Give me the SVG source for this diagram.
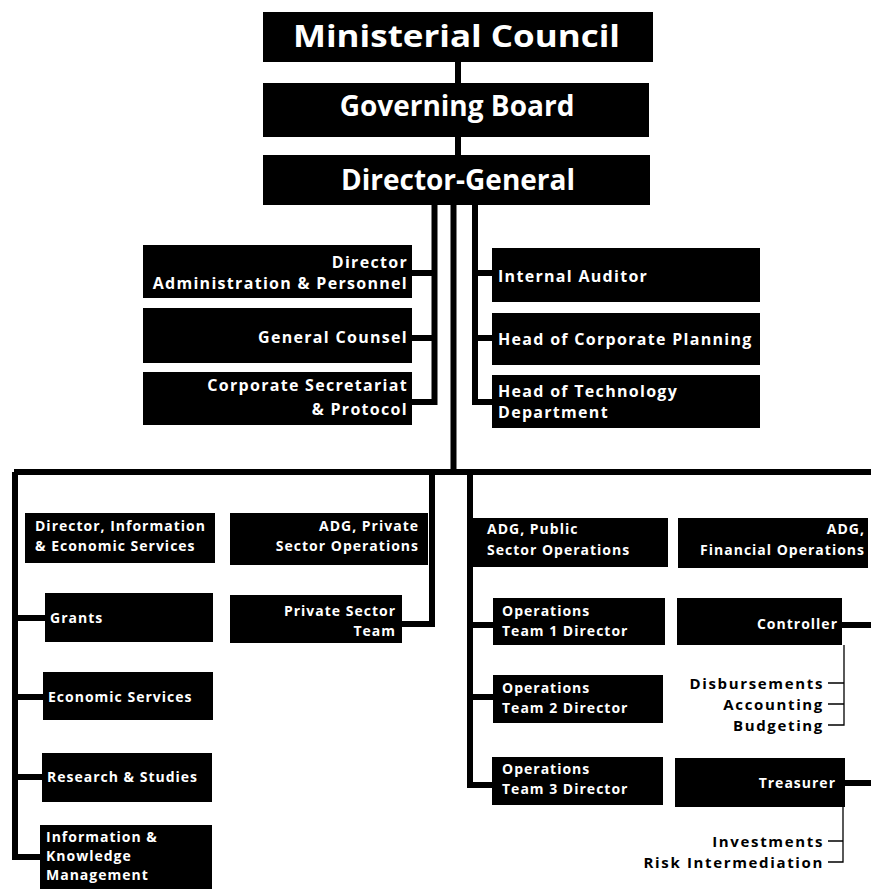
<svg xmlns="http://www.w3.org/2000/svg" width="871" height="889" viewBox="0 0 871 889">
<style>
.box{fill:#000}
.t{fill:#fff;font-family:"Open Sans","Noto Sans","DejaVu Sans",sans-serif;font-weight:700}
.big{font-size:28px}
.m{font-size:16px;letter-spacing:1.3px}
.s{font-size:14px;letter-spacing:1px}
.sub{fill:#000;font-family:"Open Sans","Noto Sans","DejaVu Sans",sans-serif;font-weight:700;font-size:15px;letter-spacing:1.65px}
.c{stroke:#000;stroke-width:6;fill:none}
.thin{stroke:#000;stroke-width:1.3;fill:none}
</style>
<rect width="871" height="889" fill="#fff"/>
<g id="connectors">
<path class="c" d="M458 62V83M458 137V155"/>
<path class="c" d="M434.5 205V402H412M412 273H434.5M412 338H434.5"/>
<path class="c" d="M453.5 205V472"/>
<path class="c" d="M475 205V402H492M475 273H492M475 338H492"/>
<path class="c" d="M14 472H871"/>
<path class="c" d="M15 472V857H42M15 618H45M15 697H43M15 777H42"/>
<path class="c" d="M432 472V624H402"/>
<path class="c" d="M470 472V785H492M470 625H493M470 697H493"/>
<path class="c" d="M842 625H871M845 783H871"/>
<path class="thin" d="M844 645V725H828M828 704H844M828 683H844"/>
<path class="thin" d="M843 807V862H828M828 841H843"/>
</g>
<g id="n-mc"><rect class="box" x="263" y="12" width="390" height="50"/><text class="t" x="293" y="47" font-size="30" font-weight="800" textLength="327" lengthAdjust="spacingAndGlyphs">Ministerial Council</text></g>
<g id="n-gb"><rect class="box" x="263" y="83" width="386" height="54"/><text class="t big" x="457" y="116" text-anchor="middle" font-size="27">Governing Board</text></g>
<g id="n-dg"><rect class="box" x="263" y="155" width="387" height="50"/><text class="t big" x="458" y="190" text-anchor="middle">Director-General</text></g>
<g id="n-admin"><rect class="box" x="143" y="245" width="269" height="53"/><text class="t m" text-anchor="end" x="408" y="268">Director</text><text class="t m" text-anchor="end" x="408" y="289">Administration &amp; Personnel</text></g>
<g id="n-gc"><rect class="box" x="143" y="308" width="269" height="55"/><text class="t m" text-anchor="end" x="408" y="343">General Counsel</text></g>
<g id="n-cs"><rect class="box" x="143" y="372" width="269" height="53"/><text class="t m" text-anchor="end" x="408" y="391">Corporate Secretariat</text><text class="t m" text-anchor="end" x="408" y="415">&amp; Protocol</text></g>
<g id="n-ia"><rect class="box" x="492" y="248" width="268" height="54"/><text class="t m" x="498" y="282">Internal Auditor</text></g>
<g id="n-hcp"><rect class="box" x="492" y="313" width="268" height="52"/><text class="t m" x="498" y="345">Head of Corporate Planning</text></g>
<g id="n-htd"><rect class="box" x="492" y="375" width="268" height="53"/><text class="t m" x="498" y="397">Head of Technology</text><text class="t m" x="498" y="418">Department</text></g>
<g id="n-dies"><rect class="box" x="25" y="513" width="190" height="50"/><text class="t s" x="35" y="531">Director, Information</text><text class="t s" x="35" y="551">&amp; Economic Services</text></g>
<g id="n-adgp"><rect class="box" x="230" y="513" width="198" height="52"/><text class="t s" text-anchor="end" x="419" y="531">ADG, Private</text><text class="t s" text-anchor="end" x="419" y="551">Sector Operations</text></g>
<g id="n-grants"><rect class="box" x="45" y="593" width="168" height="49"/><text class="t s" x="50" y="623">Grants</text></g>
<g id="n-pst"><rect class="box" x="230" y="595" width="172" height="48"/><text class="t s" text-anchor="end" x="396" y="616">Private Sector</text><text class="t s" text-anchor="end" x="396" y="636">Team</text></g>
<g id="n-econ"><rect class="box" x="43" y="672" width="170" height="48"/><text class="t s" x="48" y="702">Economic Services</text></g>
<g id="n-rs"><rect class="box" x="42" y="753" width="170" height="49"/><text class="t s" x="47" y="782">Research &amp; Studies</text></g>
<g id="n-ikm"><rect class="box" x="40" y="825" width="172" height="64"/><text class="t s" x="46" y="842">Information &amp;</text><text class="t s" x="46" y="861">Knowledge</text><text class="t s" x="46" y="880">Management</text></g>
<g id="n-adgpub"><rect class="box" x="473" y="518" width="195" height="49"/><text class="t s" x="487" y="534">ADG, Public</text><text class="t s" x="487" y="555">Sector Operations</text></g>
<g id="n-adgf"><rect class="box" x="678" y="518" width="190" height="50"/><text class="t s" text-anchor="end" x="865" y="534">ADG,</text><text class="t s" text-anchor="end" x="865" y="555">Financial Operations</text></g>
<g id="n-ops1"><rect class="box" x="493" y="598" width="172" height="47"/><text class="t s" x="502" y="616">Operations</text><text class="t s" x="502" y="636">Team 1 Director</text></g>
<g id="n-ctrl"><rect class="box" x="677" y="598" width="165" height="47"/><text class="t s" text-anchor="end" x="838" y="629">Controller</text></g>
<g id="n-ops2"><rect class="box" x="493" y="675" width="170" height="48"/><text class="t s" x="502" y="693">Operations</text><text class="t s" x="502" y="713">Team 2 Director</text></g>
<g id="n-ops3"><rect class="box" x="492" y="757" width="171" height="48"/><text class="t s" x="502" y="774">Operations</text><text class="t s" x="502" y="794">Team 3 Director</text></g>
<g id="n-treas"><rect class="box" x="675" y="758" width="170" height="49"/><text class="t s" text-anchor="end" x="836" y="788">Treasurer</text></g>
<g id="n-ctrl-sub"><text class="sub" text-anchor="end" x="824" y="689">Disbursements</text><text class="sub" text-anchor="end" x="824" y="710">Accounting</text><text class="sub" text-anchor="end" x="824" y="731">Budgeting</text></g>
<g id="n-treas-sub"><text class="sub" text-anchor="end" x="824" y="847">Investments</text><text class="sub" text-anchor="end" x="824" y="868">Risk Intermediation</text></g>
</svg>
